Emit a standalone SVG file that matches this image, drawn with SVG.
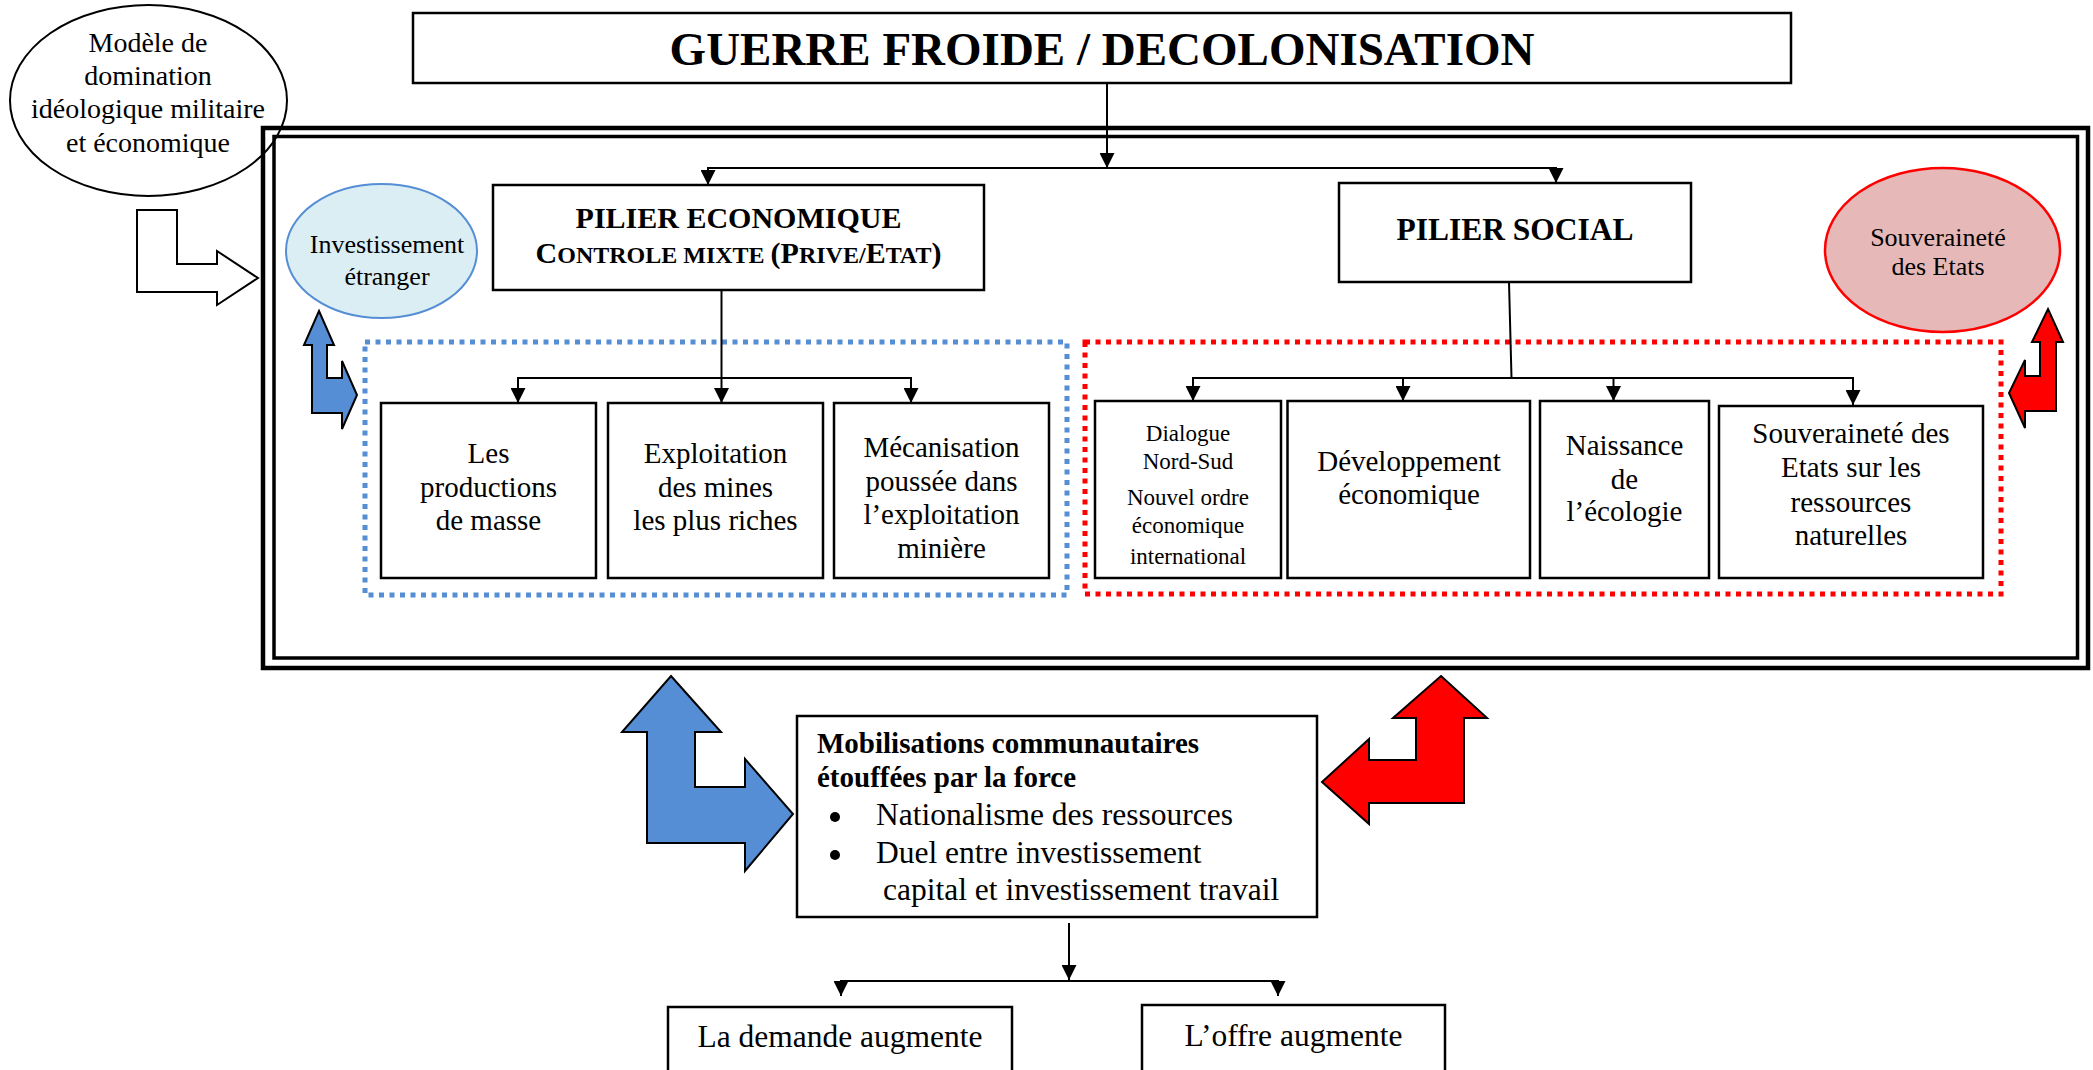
<svg xmlns="http://www.w3.org/2000/svg" width="2093" height="1070" viewBox="0 0 2093 1070">
<defs>
<marker id="ah" viewBox="0 0 10 10" refX="10" refY="5" markerUnits="userSpaceOnUse" markerWidth="15" markerHeight="15" orient="auto">
<path d="M0,0 L10,5 L0,10 z" fill="#000"/>
</marker>
</defs>
<style>
text{font-family:"Liberation Serif","Times New Roman",serif;fill:#000}
.c{text-anchor:middle}
.box{fill:#fff;stroke:#000;stroke-width:2.5}
.ln{fill:none;stroke:#000;stroke-width:2}
.t29{font-size:29px}
.t31{font-size:31.5px}
.b{font-weight:bold}
.dotb{fill:none;stroke:#558ED5;stroke-width:5;stroke-dasharray:5 5.5}
.dotr{fill:none;stroke:#FF0000;stroke-width:5;stroke-dasharray:5 5.5}
.arr{stroke:#000;stroke-width:2;stroke-linejoin:miter}
</style>
<rect width="2093" height="1070" fill="#fff"/>

<g id="modele">
<ellipse cx="148.5" cy="100.5" rx="138.5" ry="95.5" fill="#fff" stroke="#000" stroke-width="2"/>
<text class="c" x="148" y="52" font-size="28">Modèle de</text>
<text class="c" x="148" y="85" font-size="28">domination</text>
<text class="c" x="148" y="118" font-size="28">idéologique militaire</text>
<text class="c" x="148" y="152" font-size="28">et économique</text>
</g>

<g id="frame">
<rect x="263" y="128" width="1825" height="540" fill="none" stroke="#000" stroke-width="4.5"/>
<rect x="274" y="136.5" width="1803.5" height="521.5" fill="none" stroke="#000" stroke-width="3.5"/>
</g>

<g id="title">
<rect class="box" x="413" y="13" width="1378" height="70"/>
<text class="c b" x="1102" y="65" font-size="47">GUERRE FROIDE / DECOLONISATION</text>
</g>

<g id="arrow-modele">
<polygon class="arr" fill="#fff" points="137,210 177,210 177,264 217,264 217,251 258,278 217,305 217,292 137,292"/>
</g>

<g id="investissement">
<ellipse cx="381.5" cy="251" rx="95.5" ry="67" fill="#DBEEF4" stroke="#558ED5" stroke-width="2"/>
<text class="c" x="387" y="253" font-size="26">Investissement</text>
<text class="c" x="387" y="285" font-size="26">étranger</text>
</g>

<g id="arrow-blue-small">
<polygon class="arr" fill="#558ED5" points="319,311 334,345 327,345 327,378 342,378 342,361 357,395 342,429 342,413 312,413 312,345 304,345"/>
</g>

<g id="pilier-eco">
<rect class="box" x="493" y="185" width="491" height="105"/>
<text class="c b" x="738.5" y="228" font-size="30">PILIER ECONOMIQUE</text>
<text class="c b" x="738.5" y="263" font-size="24"><tspan font-size="30">C</tspan>ONTROLE MIXTE <tspan font-size="30">(P</tspan>RIVE/<tspan font-size="30">E</tspan>TAT<tspan font-size="30">)</tspan></text>
</g>

<g id="pilier-social">
<rect class="box" x="1339" y="183" width="352" height="99"/>
<text class="c b" x="1515" y="240" font-size="31.5">PILIER SOCIAL</text>
</g>

<g id="souverainete-etats">
<ellipse cx="1942.5" cy="250" rx="117.5" ry="82" fill="#E6B9B8" stroke="#FF0000" stroke-width="2.5"/>
<text class="c" x="1938" y="246" font-size="26">Souveraineté</text>
<text class="c" x="1938" y="275" font-size="26">des Etats</text>
</g>

<g id="arrow-red-small">
<polygon class="arr" fill="#FF0000" points="2048,309 2063,342 2056,342 2056,411 2025,411 2025,428 2009,393 2025,360 2025,376 2040,376 2040,342 2032,342"/>
</g>

<g id="groupe-eco">
<rect class="dotb" x="365" y="342" width="702" height="253"/>
</g>
<g id="groupe-social">
<rect class="dotr" x="1085" y="342" width="916" height="252"/>
</g>

<g id="eco-1">
<rect class="box" x="381" y="403" width="215" height="175"/>
<text class="c t29" x="488.5" y="463">Les</text>
<text class="c t29" x="488.5" y="497">productions</text>
<text class="c t29" x="488.5" y="530">de masse</text>
</g>
<g id="eco-2">
<rect class="box" x="608" y="403" width="215" height="175"/>
<text class="c t29" x="715.5" y="463">Exploitation</text>
<text class="c t29" x="715.5" y="497">des mines</text>
<text class="c t29" x="715.5" y="530">les plus riches</text>
</g>
<g id="eco-3">
<rect class="box" x="834" y="403" width="215" height="175"/>
<text class="c t29" x="941.5" y="457">Mécanisation</text>
<text class="c t29" x="941.5" y="491">poussée dans</text>
<text class="c t29" x="941.5" y="524">l’exploitation</text>
<text class="c t29" x="941.5" y="558">minière</text>
</g>

<g id="soc-1">
<rect class="box" x="1095" y="401" width="186" height="177"/>
<text class="c" x="1188" y="441" font-size="23">Dialogue</text>
<text class="c" x="1188" y="469" font-size="23">Nord-Sud</text>
<text class="c" x="1188" y="505" font-size="23">Nouvel ordre</text>
<text class="c" x="1188" y="533" font-size="23">économique</text>
<text class="c" x="1188" y="564" font-size="23">international</text>
</g>
<g id="soc-2">
<rect class="box" x="1287.5" y="401" width="242.5" height="177"/>
<text class="c t29" x="1409" y="471">Développement</text>
<text class="c t29" x="1409" y="504">économique</text>
</g>
<g id="soc-3">
<rect class="box" x="1540" y="401" width="169" height="177"/>
<text class="c t29" x="1624.5" y="455">Naissance</text>
<text class="c t29" x="1624.5" y="489">de</text>
<text class="c t29" x="1624.5" y="521">l’écologie</text>
</g>
<g id="soc-4">
<rect class="box" x="1719" y="406" width="264" height="172"/>
<text class="c t29" x="1851" y="443">Souveraineté des</text>
<text class="c t29" x="1851" y="477">Etats sur les</text>
<text class="c t29" x="1851" y="512">ressources</text>
<text class="c t29" x="1851" y="545">naturelles</text>
</g>

<g id="arrow-blue-big">
<polygon class="arr" fill="#558ED5" points="671,676 721,732 695,732 695,787 745,787 745,759 793,814 745,871 745,843 647,843 647,732 622,732"/>
</g>
<g id="arrow-red-big">
<polygon class="arr" fill="#FF0000" points="1441,676 1487,718 1464,718 1464,803 1369,803 1369,824 1322,782 1369,739 1369,760 1416,760 1416,718 1393,718"/>
</g>

<g id="mobilisations">
<rect class="box" x="797" y="716" width="520" height="201"/>
<text class="b" x="817" y="753" font-size="29">Mobilisations communautaires</text>
<text class="b" x="817" y="787" font-size="29">étouffées par la force</text>
<circle cx="835" cy="817" r="5" fill="#000"/>
<text class="t31" x="876" y="825">Nationalisme des ressources</text>
<circle cx="835" cy="855" r="5" fill="#000"/>
<text class="t31" x="876" y="863">Duel entre investissement</text>
<text class="t31" x="883" y="900">capital et investissement travail</text>
</g>

<g id="demande">
<rect class="box" x="668" y="1007" width="344" height="70"/>
<text class="c t31" x="840" y="1047">La demande augmente</text>
</g>
<g id="offre">
<rect class="box" x="1142" y="1005" width="303" height="72"/>
<text class="c t31" x="1293.5" y="1046">L’offre augmente</text>
</g>

<g id="connectors">
<line class="ln" x1="1107" y1="83" x2="1107" y2="168" marker-end="url(#ah)"/>
<line class="ln" x1="707" y1="168" x2="1557" y2="168"/>
<line class="ln" x1="708" y1="168" x2="708" y2="185" marker-end="url(#ah)"/>
<line class="ln" x1="1556" y1="168" x2="1556" y2="183" marker-end="url(#ah)"/>

<line class="ln" x1="721.5" y1="290" x2="721.5" y2="403" marker-end="url(#ah)"/>
<line class="ln" x1="517" y1="378" x2="912" y2="378"/>
<line class="ln" x1="518" y1="378" x2="518" y2="403" marker-end="url(#ah)"/>
<line class="ln" x1="911" y1="378" x2="911" y2="403" marker-end="url(#ah)"/>

<line class="ln" x1="1509" y1="282" x2="1511.5" y2="378"/>
<line class="ln" x1="1192" y1="378" x2="1854" y2="378"/>
<line class="ln" x1="1193" y1="378" x2="1193" y2="401" marker-end="url(#ah)"/>
<line class="ln" x1="1403" y1="378" x2="1403" y2="401" marker-end="url(#ah)"/>
<line class="ln" x1="1613.5" y1="378" x2="1613.5" y2="401" marker-end="url(#ah)"/>
<line class="ln" x1="1853" y1="378" x2="1853" y2="405" marker-end="url(#ah)"/>

<line class="ln" x1="1069" y1="923" x2="1069" y2="980" marker-end="url(#ah)"/>
<line class="ln" x1="840" y1="981" x2="1279" y2="981"/>
<line class="ln" x1="841" y1="981" x2="841" y2="996" marker-end="url(#ah)"/>
<line class="ln" x1="1278" y1="981" x2="1278" y2="996" marker-end="url(#ah)"/>
</g>
</svg>
